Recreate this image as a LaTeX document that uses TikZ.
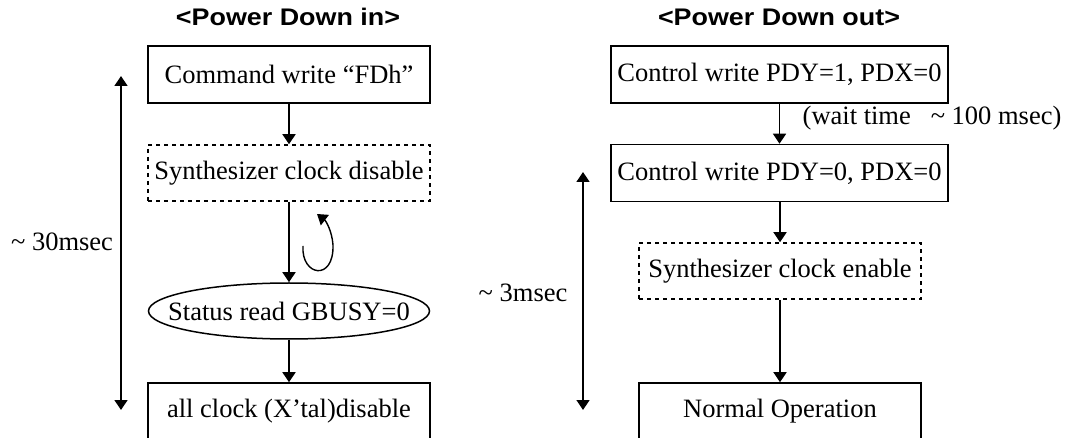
\documentclass[tikz,border=0pt]{standalone}
\usepackage{fontspec}
\usepackage{graphicx}
\setmainfont{Liberation Serif}
\newfontfamily\titlefont{Liberation Sans}
\usetikzlibrary{arrows.meta,shapes.geometric}
\begin{document}
\begin{tikzpicture}[x=1pt,y=-1pt,
  every node/.style={font=\fontsize{26.5}{30}\selectfont, inner sep=0pt},
  box/.style={draw, line width=1.5pt, minimum height=57pt},
  dbox/.style={draw, line width=1.5pt, dash pattern=on 4pt off 4pt, minimum height=56pt},
  oval/.style={draw, ellipse, line width=1.5pt, minimum width=281pt, minimum height=56pt},
  ttl/.style={font=\titlefont\bfseries\fontsize{24}{28}\selectfont},
  arr/.style={line width=1.4pt, -{Triangle[length=10pt,width=13pt]}},
  darr/.style={line width=1.4pt, {Triangle[length=10pt,width=13pt]}-{Triangle[length=10pt,width=13pt]}}
]
\useasboundingbox (0,0) rectangle (1066,438);
\clip (0,0) rectangle (1066,438);
% titles
\node[ttl] (t1) at (288,17) {\scalebox{1.12}[1]{<Power Down in>}};
\node[ttl] (t2) at (779,17) {\scalebox{1.12}[1]{<Power Down out>}};
% left column
\node[box, minimum width=282pt] (A) at (289,74.5) {Command write “FDh”};
\node[dbox, minimum width=282pt] (B) at (289,173) {Synthesizer clock disable};
\node[oval, label={center:Status read GBUSY=0}] (C) at (289,311) {};
\node[box, minimum width=282pt] (D) at (289,411.5) {all clock (X’tal)disable};
\draw[arr] (A) -- (B);
\draw[arr] (B) -- (C);
\draw[arr] (C) -- (D);
\coordinate (l1) at (303,246);
\coordinate (l2) at (317,214);
\draw[arr] (l1) .. controls (301,276) and (334,282) .. (333,245) .. controls (332,231) and (326,221) .. (l2);
\coordinate (lt) at (121,76);
\coordinate (lb) at (121,410);
\draw[darr] (lt) -- (lb);
\node (ms30) at (62,242) {\textasciitilde\ 30msec};
% right column
\node[box, minimum width=337pt] (E) at (779.5,74.5) {Control write PDY=1, PDX=0};
\node[box, minimum width=337pt] (F) at (779.5,173) {Control write PDY=0, PDX=0};
\node[dbox, minimum width=282pt] (G) at (780,271) {Synthesizer clock enable};
\node[box, minimum width=282pt] (H) at (780,411.5) {Normal Operation};
\draw[arr] (E) -- (F);
\draw[arr] (F.south -| G.north) -- (G);
\draw[arr] (G) -- (H);
\node (wait) at (932,118) {(wait time\ \ \ \textasciitilde\ 100 msec)};
\coordinate (rt) at (583,172);
\coordinate (rb) at (583,410);
\draw[darr] (rt) -- (rb);
\node (ms3) at (523,293) {\textasciitilde\ 3msec};
\end{tikzpicture}
\end{document}
